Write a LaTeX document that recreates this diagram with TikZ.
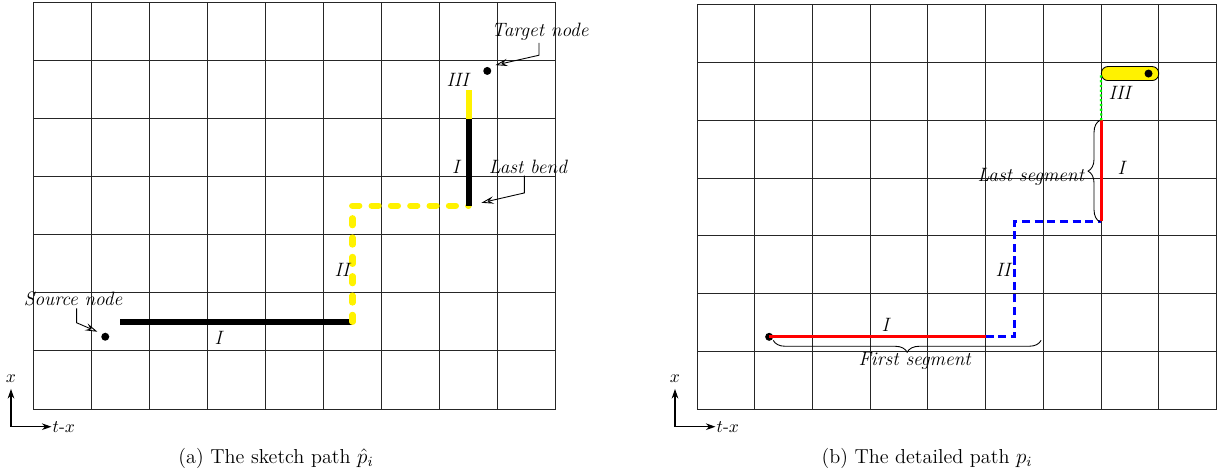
\documentclass[tikz,border=0pt]{standalone}
\usetikzlibrary{arrows.meta,decorations.pathreplacing,calc}
\begin{document}
\begin{tikzpicture}[x=0.02cm,y=-0.02cm,
  gridline/.style={line width=0.55pt, black!85},
  lbl/.style={font=\fontsize{11}{13}\selectfont\itshape, inner sep=1pt},
  caption/.style={font=\fontsize{11.5}{13}\selectfont, inner sep=1pt},
  dot/.style={circle, fill=black, inner sep=0pt, minimum size=0.16cm},
  blackseg/.style={line width=3.5pt, black},
  yellowseg/.style={line width=3.5pt, yellow},
  yellowdash/.style={line width=3.5pt, yellow, line cap=round, line join=round, dash pattern=on 4pt off 7pt},
  redseg/.style={line width=1.7pt, red},
  bluedash/.style={line width=1.7pt, blue, dash pattern=on 4.6pt off 2.6pt},
  greendot/.style={line width=1.3pt, green, dash pattern=on 1.3pt off 1.4pt},
  callout/.style={line width=0.5pt, -{Stealth[open, fill=white, length=7pt, width=4.2pt, inset=2.6pt]}},
  axis/.style={line width=0.6pt, -{Stealth[length=5.5pt, width=3.8pt]}},
  bracestyle/.style={line width=0.5pt, decorate, decoration={brace, amplitude=6.8pt}},
  tbox/.style={draw=black, line width=0.5pt, fill=yellow, rounded corners=0.13cm, minimum width=1.145cm, minimum height=0.28cm, inner sep=0pt}
]
\useasboundingbox (0,0) rectangle (1225,474);

% ---------------- (a) sketch path ----------------
\begin{scope}[shift={(33,409)}, x=1.162cm, y=1.162cm]
  \foreach \i in {0,...,9} \draw[gridline] (\i,0) -- (\i,7);
  \foreach \j in {0,...,7} \draw[gridline] (0,\j) -- (9,\j);
  \coordinate (a1) at (1.5,1.5);
  \coordinate (a2) at (5.5,1.5);
  \coordinate (a3) at (5.5,3.5);
  \coordinate (a4) at (7.5,3.5);
  \coordinate (a5) at (7.5,5);
  \coordinate (a6) at (7.5,5.5);
  \draw[blackseg] (a1) -- (a2);
  \draw[yellowdash] (a2) -- (a3) -- (a4);
  \draw[blackseg] (a4) -- (a5);
  \draw[yellowseg] (a5) -- (a6);
  \node[dot] (srcA) at (1.244,1.244) {};
  \node[dot] (tgtA) at (7.82,5.82) {};
  \node[lbl] (aI1) at (3.19,1.22) {I};
  \node[lbl] (aII) at (5.32,2.39) {II};
  \node[lbl] (aI2) at (7.28,4.17) {I};
  \node[lbl] (aIII) at (7.31,5.66) {III};
  % callouts
  \node[lbl] (srcLbl) at (0.69,1.89) {Source node};
  \coordinate (srcBend) at (0.75,1.485);
  \coordinate (srcTip) at (1.11,1.33);
  \draw[callout] (srcLbl.south -| srcBend) -- (srcBend) -- (srcTip);
  \node[lbl] (tgtLbl) at (8.73,6.49) {Target node};
  \coordinate (tgtBend) at (8.71,6.09);
  \coordinate (tgtTip) at (7.96,5.92);
  \draw[callout] (tgtLbl.south -| tgtBend) -- (tgtBend) -- (tgtTip);
  \node[lbl] (lbLbl) at (8.52,4.17) {Last bend};
  \coordinate (lbBend) at (8.46,3.72);
  \coordinate (lbTip) at (7.72,3.55);
  \draw[callout] (lbLbl.south -| lbBend) -- (lbBend) -- (lbTip);
\end{scope}

% ---------------- (b) detailed path ----------------
\begin{scope}[shift={(697,409)}, x=1.155cm, y=1.155cm]
  \foreach \i in {0,...,9} \draw[gridline] (\i,0) -- (\i,7);
  \foreach \j in {0,...,7} \draw[gridline] (0,\j) -- (9,\j);
  \node[dot] (srcB) at (1.25,1.25) {};
  \coordinate (b2) at (5,1.25);
  \coordinate (b3) at (5.5,1.25);
  \coordinate (b4) at (5.5,3.25);
  \coordinate (b5) at (7,3.25);
  \coordinate (b6) at (7,5);
  \draw[redseg] (srcB.center) -- (b2);
  \draw[bluedash] (b2) -- (b3) -- (b4) -- (b5);
  \draw[redseg] (b5) -- (b6);
  \node[tbox] (tbox) at (7.5,5.81) {};
  \draw[greendot] (b6) -- (tbox.west);
  \node[dot] (tgtB) at (7.82,5.81) {};
  \node[lbl] (bI1) at (3.26,1.45) {I};
  \node[lbl] (bII) at (5.30,2.41) {II};
  \node[lbl] (bI2) at (7.35,4.17) {I};
  \node[lbl] (bIII) at (7.32,5.48) {III};
  % braces
  \coordinate (fsR) at (5.96,1.19);
  \coordinate (fsL) at (1.32,1.19);
  \draw[bracestyle] (fsR) -- (fsL);
  \node[lbl] (fsLbl) at (3.77,0.83) {First segment};
  \coordinate (lsB) at (6.98,3.24);
  \coordinate (lsT) at (6.98,5.0);
  \draw[bracestyle] (lsB) -- (lsT);
  \node[lbl, anchor=east] (lsLbl) at (6.74,4.02) {Last segment};
\end{scope}

% ---------------- axes ----------------
\coordinate (oA) at (11,426.7);
\node[inner sep=3.3pt] (xA) at (11,379) {$x$};
\node[anchor=west, inner sep=0.5pt] (txA) at (51.5,426.7) {$t$-$x$};
\draw[axis] (oA) -- (xA.south);
\draw[axis] (oA) -- (txA.west);

\coordinate (oB) at (675,426.7);
\node[inner sep=3.3pt] (xB) at (675,379) {$x$};
\node[anchor=west, inner sep=0.5pt] (txB) at (715.5,426.7) {$t$-$x$};
\draw[axis] (oB) -- (xB.south);
\draw[axis] (oB) -- (txB.west);

% ---------------- captions ----------------
\node[caption] (capA) at (276,458) {(a) The sketch path $\hat{p}_i$};
\node[caption] (capB) at (927,458) {(b) The detailed path $p_i$};
\end{tikzpicture}
\end{document}
